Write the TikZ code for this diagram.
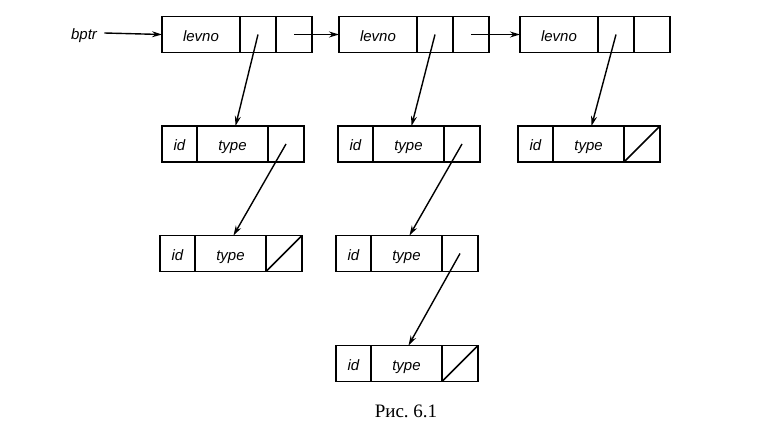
\documentclass[tikz,border=0pt]{standalone}
\usepackage{fontspec}
\setmainfont{Liberation Serif}
\setsansfont{Liberation Sans}
\usetikzlibrary{positioning,arrows.meta}
\tikzset{
    label/.style={
            font=\sffamily\itshape\fontsize{15}{17}\selectfont,
            text height=13pt, % baselines line up below the middle
            text depth=0pt
        }
}
\tikzset{
    cell/.style={
            draw,
            label,
            line width=1.8pt,
            outer sep=0pt, % cells share their borders
            inner sep=0pt,
            minimum height=36pt
        }
}
\tikzset{
    nilcell/.style={
            cell,
            path picture={
                    \draw[line width=1.5pt] (path picture bounding box.south west)
                    -- (path picture bounding box.north east);
                }
        }
}
\tikzset{
    ptr/.style={
            line width=1.4pt,
            -{Stealth[length=10pt,width=6pt]}
        }
}
% levno record: name, left x, middle y
\newcommand{\levrec}[3]{%
    \node[cell, anchor=west, minimum width=78pt] (#1n) at (#2,#3) {levno};
    \node[cell, minimum width=36pt, right=0pt of #1n] (#1p) {};
    \node[cell, minimum width=36pt, right=0pt of #1p] (#1q) {};
}
% id record: name, left x, middle y, style of last cell
\newcommand{\idrec}[4]{%
    \node[cell, anchor=west, minimum width=35pt] (#1i) at (#2,#3) {id};
    \node[cell, minimum width=71pt, right=0pt of #1i] (#1t) {type};
    \node[#4, minimum width=36pt, right=0pt of #1t] (#1l) {};
}

\begin{document}
\begin{tikzpicture}[x=1pt, y=-1pt]
    \useasboundingbox (0,0) rectangle (758,439);
    %
    \node[label] (bptr) at (84,33) {bptr};
    \levrec{b1}{162}{34.5}
    \levrec{b2}{339}{34.5}
    \levrec{b3}{520}{34.5}
    %
    \idrec{e11}{162}{144}{cell}
    \idrec{e12}{160}{253.5}{nilcell}
    \idrec{e21}{338}{144}{cell}
    \idrec{e22}{336}{253.5}{cell}
    \idrec{e23}{336}{363.5}{nilcell}
    \idrec{e31}{518}{144}{nilcell}
    %
    \draw[ptr] ([xshift=4pt]bptr.east) -- (b1n.west);
    \draw[ptr] (b1q.center) -- (b2n.west);
    \draw[ptr] (b2q.center) -- (b3n.west);
    %
    \draw[ptr] (b1p.center) -- ([xshift=3pt]e11t.north);
    \draw[ptr] (b2p.center) -- ([xshift=3pt]e21t.north);
    \draw[ptr] (b3p.center) -- ([xshift=3pt]e31t.north);
    \draw[ptr] (e11l.center) -- ([xshift=3pt]e12t.north);
    \draw[ptr] (e21l.center) -- ([xshift=3pt]e22t.north);
    \draw[ptr] (e22l.center) -- ([xshift=2pt]e23t.north);
    %
    \node[anchor=base, font=\fontsize{19}{21}\selectfont] (cap) at (406,417) {Рис.\ 6.1};
\end{tikzpicture}
\end{document}
